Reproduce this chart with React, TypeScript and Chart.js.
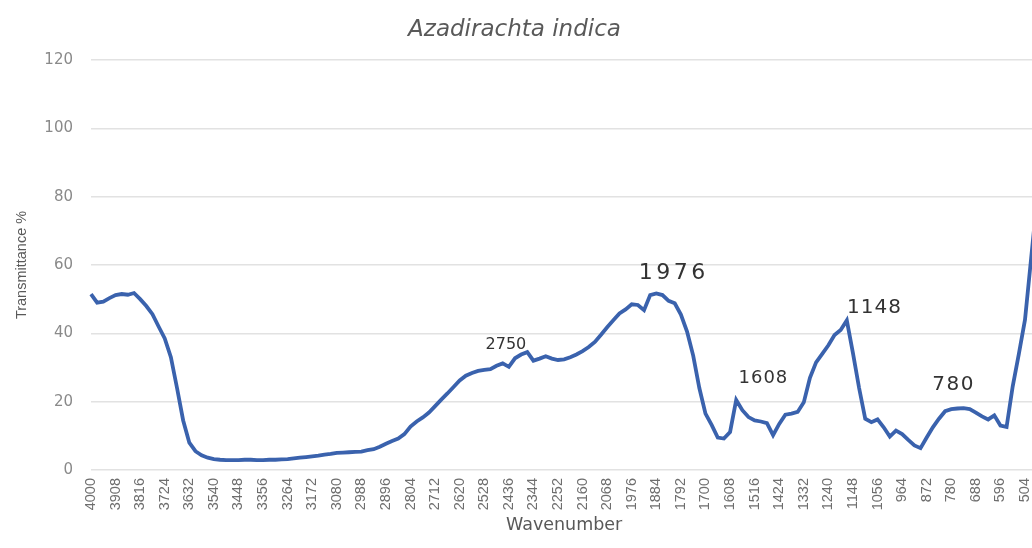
import { useEffect, useRef } from "react";
import { Chart, registerables } from "chart.js";

Chart.register(...registerables);

const chartTitle = "Azadirachta indica";
const xAxisTitle = "Wavenumber";
const yAxisTitle = "Transmittance %";

const wavenumbers = [
  4000, 3977, 3954, 3931, 3908, 3885, 3862, 3839, 3816, 3793, 3770, 3747, 3724, 3701, 3678, 3655,
  3632, 3609, 3586, 3563, 3540, 3517, 3494, 3471, 3448, 3425, 3402, 3379, 3356, 3333, 3310, 3287,
  3264, 3241, 3218, 3195, 3172, 3149, 3126, 3103, 3080, 3057, 3034, 3011, 2988, 2965, 2942, 2919,
  2896, 2873, 2850, 2827, 2804, 2781, 2758, 2735, 2712, 2689, 2666, 2643, 2620, 2597, 2574, 2551,
  2528, 2505, 2482, 2459, 2436, 2413, 2390, 2367, 2344, 2321, 2298, 2275, 2252, 2229, 2206, 2183,
  2160, 2137, 2114, 2091, 2068, 2045, 2022, 1999, 1976, 1953, 1930, 1907, 1884, 1861, 1838, 1815,
  1792, 1769, 1746, 1723, 1700, 1677, 1654, 1631, 1608, 1585, 1562, 1539, 1516, 1493, 1470, 1447,
  1424, 1401, 1378, 1355, 1332, 1309, 1286, 1263, 1240, 1217, 1194, 1171, 1148, 1125, 1102, 1079,
  1056, 1033, 1010, 987, 964, 941, 918, 895, 872, 849, 826, 803, 780, 757, 734, 711,
  688, 665, 642, 619, 596, 573, 550, 527, 504, 481, 458,
];

const transmittance = [
  51.5, 49, 49.3, 50.3, 51.2, 51.5, 51.3, 51.8, 50, 48,
  45.6, 42, 38.5, 33, 24, 14.5, 8, 5.5, 4.3, 3.6,
  3.2, 3.0, 2.9, 2.9, 2.9, 3.0, 3.0, 2.9, 2.9, 3.0,
  3.0, 3.1, 3.2, 3.4, 3.6, 3.8, 4.0, 4.2, 4.5, 4.7,
  5.0, 5.1, 5.2, 5.3, 5.4, 5.8, 6.1, 6.8, 7.7, 8.5,
  9.2, 10.5, 12.7, 14.2, 15.4, 16.8, 18.7, 20.6, 22.4, 24.3,
  26.2, 27.6, 28.4, 29.0, 29.3, 29.5, 30.5, 31.2, 30.2, 32.7,
  33.8, 34.5, 32.0, 32.6, 33.3, 32.6, 32.2, 32.4, 33.0, 33.8,
  34.8, 36.0, 37.5, 39.6, 41.8, 43.8, 45.8, 47.0, 48.5, 48.3,
  46.8, 51.2, 51.7, 51.2, 49.5, 48.8, 45.5, 40.5, 33.5, 24.0,
  16.5, 13.2, 9.5, 9.2, 11.1, 20.5, 17.5, 15.5, 14.5, 14.2,
  13.7, 10.2, 13.5, 16.2, 16.5, 17.0, 19.8, 27.0, 31.5, 34.0,
  36.5, 39.5, 41.0, 43.8, 34.2, 24.0, 15.0, 14.0, 14.8, 12.5,
  9.8, 11.5, 10.5, 8.8, 7.2, 6.4, 9.5, 12.5, 15.0, 17.2,
  17.8, 18.0, 18.1, 17.8, 16.8, 15.7, 14.8, 16.0, 13.0, 12.6,
  24.5, 34.0, 44.0, 62.0, 80.0,
];

const xTickLabels = [
  "4000", "3908", "3816", "3724", "3632", "3540", "3448", "3356", "3264", "3172",
  "3080", "2988", "2896", "2804", "2712", "2620", "2528", "2436", "2344", "2252",
  "2160", "2068", "1976", "1884", "1792", "1700", "1608", "1516", "1424", "1332",
  "1240", "1148", "1056", "964", "872", "780", "688", "596", "504",
];

const annotationTexts = ["2750", "1976", "1608", "1148", "780"];
const annotationWavenumbers = [2447, 1825, 1485, 1069, 774];
const annotationValues = [36.5, 57.5, 26.9, 47.6, 24.8];
const annotationFontSizes = [16, 22, 18, 20, 20];
const annotationLetterSpacing = [0, 3.5, 1, 1, 1.5];

const textPlugin = {
  id: "textPlugin",
  afterDraw(chart: any) {
    const ctx = chart.ctx;
    const xs = chart.scales.x;
    const ys = chart.scales.y;
    const p0 = xs.getPixelForValue(0);
    const p1 = xs.getPixelForValue(1);
    const step = wavenumbers[0] - wavenumbers[1];
    ctx.save();
    ctx.textAlign = "center";
    ctx.textBaseline = "middle";
    ctx.fillStyle = "#595959";
    ctx.font = "italic 23px 'DejaVu Sans'";
    ctx.fillText(chartTitle, chart.width / 2 - 8, 30);
    ctx.fillStyle = "#333333";
    annotationTexts.forEach((t, i) => {
      const idx = (wavenumbers[0] - annotationWavenumbers[i]) / step;
      const x = p0 + idx * (p1 - p0);
      const y = ys.getPixelForValue(annotationValues[i]);
      ctx.font = `${annotationFontSizes[i]}px 'DejaVu Sans'`;
      (ctx as any).letterSpacing = `${annotationLetterSpacing[i]}px`;
      ctx.fillText(t, x + annotationLetterSpacing[i] / 2, y);
    });
    ctx.restore();
  },
};

export default function App() {
  const canvasRef = useRef<HTMLCanvasElement | null>(null);

  useEffect(() => {
    const canvas = canvasRef.current;
    if (!canvas) return;
    const chart = new Chart(canvas, {
      type: "line",
      data: {
        labels: wavenumbers.map(String),
        datasets: [
          {
            data: transmittance,
            borderColor: "#3a62ad",
            borderWidth: 3.8,
            pointRadius: 0,
            tension: 0,
            fill: false,
          },
        ],
      },
      options: {
        responsive: false,
        animation: false,
        layout: { padding: { top: 60, left: 0, right: 7.7, bottom: 0 } },
        plugins: {
          legend: { display: false },
          tooltip: { enabled: false },
          title: { display: false },
        },
        scales: {
          x: {
            type: "category",
            afterFit: (scale: any) => {
              scale.height = 78;
              scale.paddingLeft = 0;
              scale.paddingRight = 0;
            },
            grid: { display: false, drawTicks: false },
            border: { display: false },
            ticks: {
              autoSkip: false,
              minRotation: 90,
              maxRotation: 90,
              padding: 8,
              color: "#6e6e6e",
              font: { family: "'Liberation Sans', Arial, sans-serif", size: 14.5 },
              callback: (_v: any, index: number) => {
                const s = String(wavenumbers[index]);
                return xTickLabels.includes(s) ? s : "";
              },
            },
            title: {
              display: true,
              text: xAxisTitle,
              color: "#595959",
              font: { family: "'DejaVu Sans'", size: 17.5 },
              padding: { top: 2, bottom: 12 },
            },
          },
          y: {
            min: 0,
            max: 120,
            afterFit: (scale: any) => {
              scale.width = 91;
            },
            grid: { color: "#e2e2e2", lineWidth: 1.5, drawTicks: false },
            border: { display: false },
            ticks: {
              stepSize: 20,
              padding: 18,
              color: "#8a8a8a",
              font: { family: "'DejaVu Sans'", size: 15 },
            },
            title: {
              display: true,
              text: yAxisTitle,
              color: "#595959",
              font: { family: "'Liberation Sans', Arial, sans-serif", size: 14.5 },
              padding: { top: 13, bottom: 0 },
            },
          },
        },
      },
      plugins: [textPlugin],
    });
    return () => chart.destroy();
  }, []);

  return (
    <div
      style={{
        position: "absolute",
        left: 0,
        top: 0,
        width: 1032,
        height: 548,
        overflow: "hidden",
        background: "#ffffff",
      }}
    >
      <canvas
        ref={canvasRef}
        width={1045}
        height={548}
        style={{ width: 1045, height: 548, display: "block" }}
      />
    </div>
  );
}
